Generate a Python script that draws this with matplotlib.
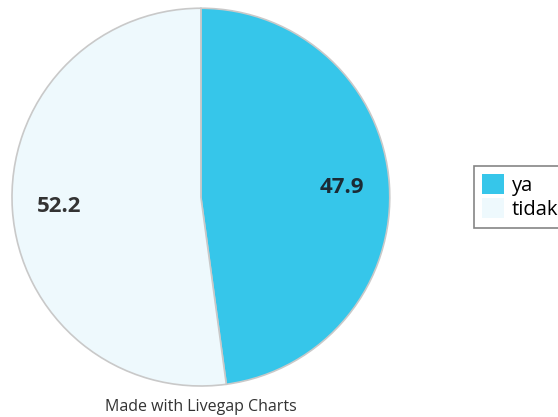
import matplotlib; matplotlib.use("Agg"); import matplotlib.pyplot as plt
from matplotlib.patches import Patch

plt.rcParams['font.family'] = ['Open Sans', 'DejaVu Sans']

labels = ["ya", "tidak"]
values = [47.9, 52.2]
colors = ["#36C6EA", "#EEF9FD"]
text_colors = ["#1b2b35", "#333333"]

fig = plt.figure(figsize=(5.58, 4.17), dpi=100)
ax = fig.add_axes([0.0215, 0.0743, 0.677, 0.906])
total = sum(values)
wedges, texts, autotexts = ax.pie(values, colors=colors, startangle=90, counterclock=False,
                                  autopct=lambda p: f"{p * total / 100:.1f}", pctdistance=0.75,
                                  wedgeprops=dict(edgecolor="#c9c9c9", linewidth=1.2))
for t, c in zip(autotexts, text_colors):
    t.set_fontsize(16)
    t.set_fontweight("bold")
    t.set_color(c)
ax.set_aspect("equal")
ax.set_xlim(-1.0, 1.0)
ax.set_ylim(-1.0, 1.0)

handles = [Patch(facecolor=c, edgecolor="none") for c in colors]
leg = fig.legend(handles, labels, loc="upper left", bbox_to_anchor=(0.849, 0.602),
                 fontsize=14.5, frameon=True, fancybox=False, handlelength=1.1, handleheight=1.15,
                 handletextpad=0.4, labelspacing=0.12, borderpad=0.4, borderaxespad=0)
leg.get_frame().set_edgecolor("#666666")
leg.get_frame().set_linewidth(1.2)

fig.text(0.360, 0.024, "Made with Livegap Charts", ha="center", va="center", fontsize=11.5, color="#333333")

fig.savefig("out.png", dpi=100)
